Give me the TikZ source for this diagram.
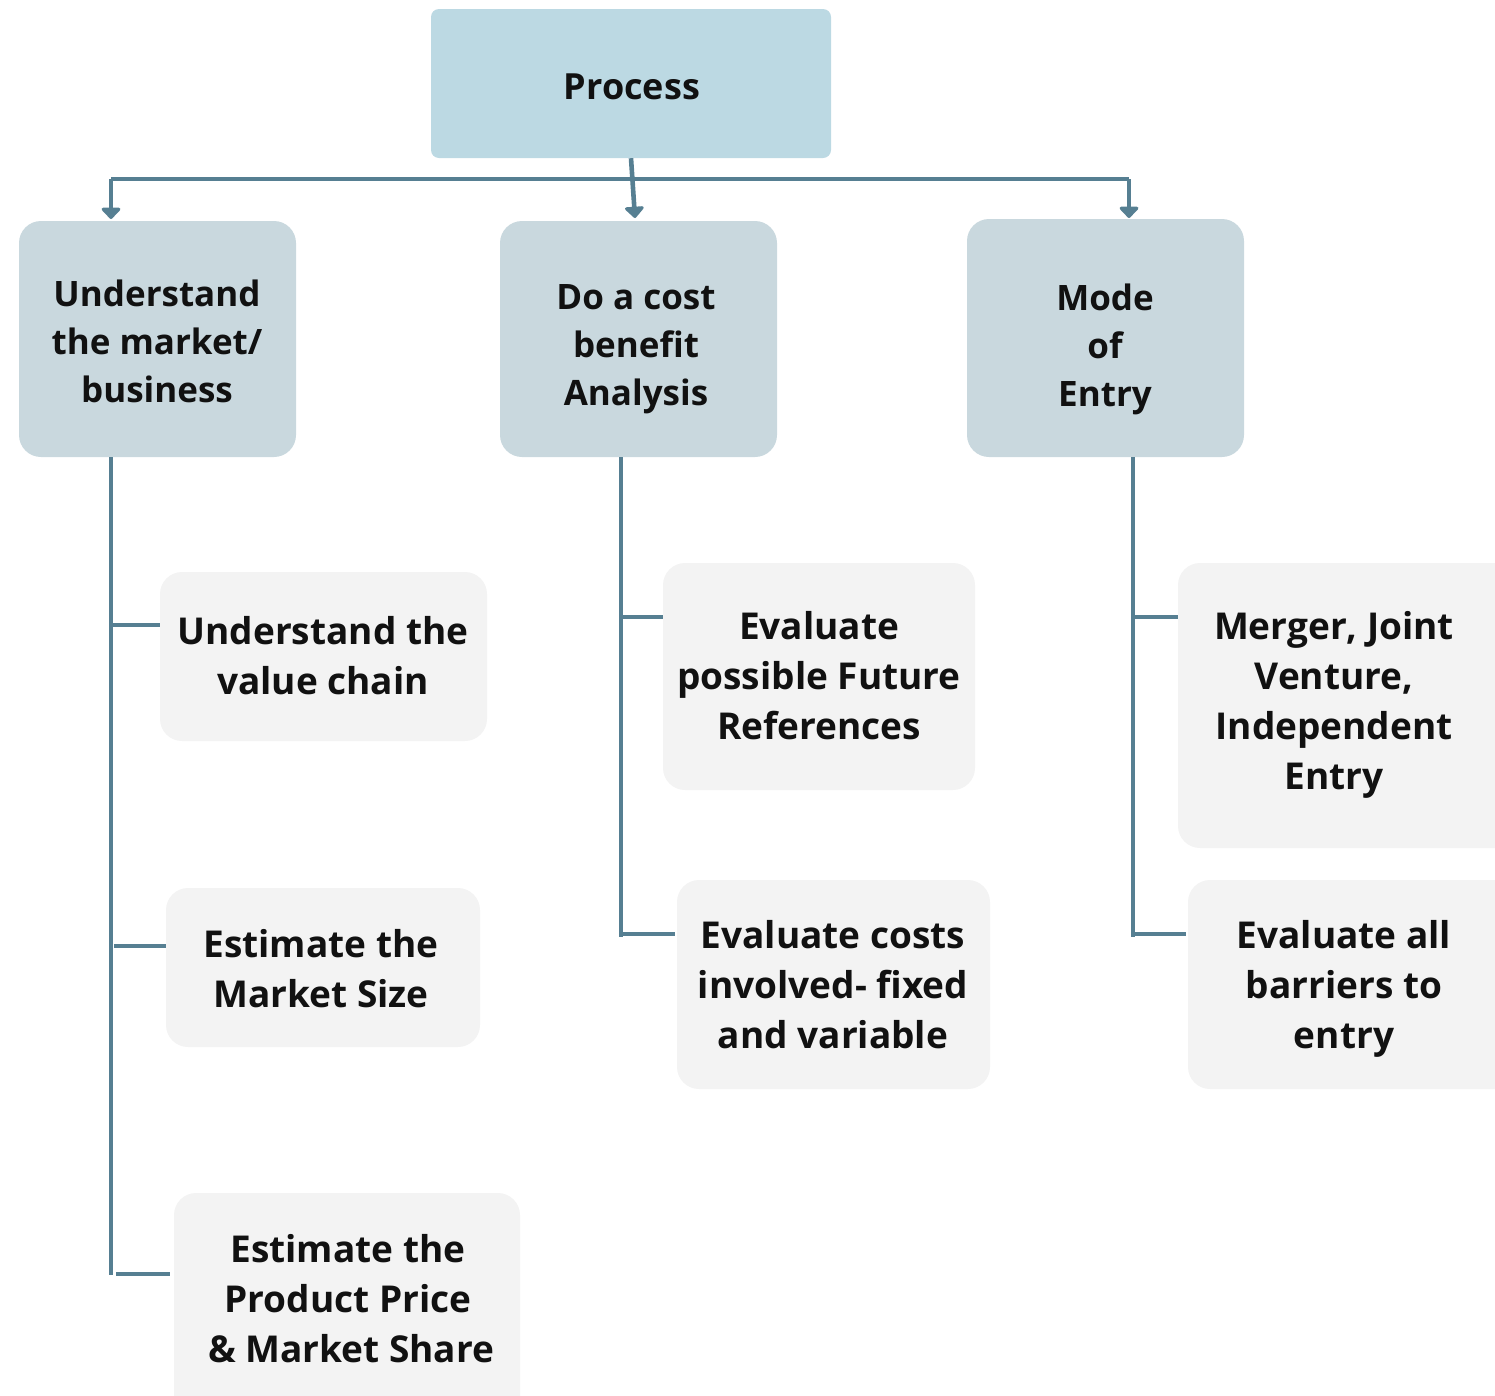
\documentclass[tikz,border=0pt]{standalone}
\usepackage{fontspec}
\setmainfont{Open Sans}
\usetikzlibrary{arrows.meta}
\definecolor{linec}{HTML}{567F92}
\definecolor{topfill}{HTML}{BCD9E3}
\definecolor{headfill}{HTML}{C9D8DE}
\definecolor{subfill}{HTML}{F3F3F3}
\definecolor{ink}{HTML}{111111}
\begin{document}
\begin{tikzpicture}[x=1pt,y=-1pt,
  topbox/.style={rectangle, rounded corners=8pt, fill=topfill, inner sep=0pt},
  headbox/.style={rectangle, rounded corners=22pt, fill=headfill, inner sep=0pt},
  subbox/.style={rectangle, rounded corners=22pt, fill=subfill, inner sep=0pt},
  headtext/.style={align=center, inner sep=0pt, text=ink, font=\bfseries\fontsize{35}{48}\selectfont},
  subtext/.style={align=center, inner sep=0pt, text=ink, font=\bfseries\fontsize{37}{50}\selectfont},
  conn/.style={draw=linec, line width=4.6pt},
  arr/.style={-{Triangle[width=22pt,length=12pt,round]}, fill=linec},
]
\useasboundingbox (0,0) rectangle (1495,1395);
\clip (0,0) rectangle (1495,1395);

% top box
\node[topbox, minimum width=400pt, minimum height=149pt] (proc) at (631,83.5) {};
\node[headtext, font=\bfseries\fontsize{36}{48}\selectfont] (proct) at (632,87) {Process};

% level-one boxes
\node[headbox, minimum width=277pt, minimum height=236pt] (ha) at (157.5,339) {};
\node[headbox, minimum width=277pt, minimum height=236pt] (hb) at (638.5,339) {};
\node[headbox, minimum width=277pt, minimum height=238pt] (hc) at (1105.5,338) {};
\node[headtext] (hat) at (157,341) {Understand\\the market/\\business};
\node[headtext] (hbt) at (636,349) {Do a cost\\benefit\\Analysis};
\node[headtext] (hct) at (1105,349) {Mode\\of\\Entry};

% level-two boxes
\node[subbox, minimum width=327pt, minimum height=169pt] (a1) at (323.5,656.5) {};
\node[subbox, minimum width=314pt, minimum height=159pt] (a2) at (323,967.5) {};
\node[subbox, minimum width=346pt, minimum height=260pt] (a3) at (347,1323) {};
\node[subbox, minimum width=312pt, minimum height=227pt] (b1) at (819,676.5) {};
\node[subbox, minimum width=313pt, minimum height=209pt] (b2) at (833.5,984.5) {};
\node[subbox, minimum width=340pt, minimum height=285pt] (c1) at (1348,705.5) {};
\node[subbox, minimum width=330pt, minimum height=209pt] (c2) at (1353,984.5) {};

\node[subtext] (a1t) at (323,656) {Understand the\\value chain};
\node[subtext] (a2t) at (321,969) {Estimate the\\Market Size};
\node[subtext] (a3t) at (348,1299) {Estimate the\\Product Price\\\,\& Market Share};
\node[subtext] (b1t) at (819,676) {Evaluate\\possible Future\\References};
\node[subtext] (b2t) at (833,985) {Evaluate costs\\involved- fixed\\and variable};
\node[subtext] (c1t) at (1334,705) {Merger, Joint\\Venture,\\Independent\\Entry};
\node[subtext] (c2t) at (1344,989) {Evaluate all\\barriers to\\entry};

% distribution bus and arrows
\coordinate (busL) at (111,179);
\coordinate (busR) at (1129,179);
\coordinate (ta) at (111,219);
\coordinate (tb) at (635,218);
\coordinate (tc) at (1129,218);
\draw[conn] (busL) -- (busR);
\draw[conn, arr] (busL) -- (ta);
\draw[conn, arr] (busR) -- (tc);
\draw[conn, arr] (proc.south) -- (tb);

% trunks
\coordinate (ka0) at (111,457);
\coordinate (ka3) at (111,1275);
\coordinate (kb0) at (621,457);
\coordinate (kb2) at (621,937);
\coordinate (kc0) at (1133,457);
\coordinate (kc2) at (1133,937);
\draw[conn] (ka0) -- (ka3);
\draw[conn] (kb0) -- (kb2);
\draw[conn] (kc0) -- (kc2);

% branches
\coordinate (ka1b) at (111,625);
\coordinate (ka2b) at (114,946);
\coordinate (ka3b) at (116,1274);
\coordinate (kb1b) at (621,617);
\coordinate (kb2b) at (621,934);
\coordinate (kc1b) at (1133,617);
\coordinate (kc2b) at (1133,934);
\draw[conn] (ka1b) -- (a1.west |- ka1b);
\draw[conn] (ka2b) -- (a2.west |- ka2b);
\draw[conn] (ka3b) -- ([xshift=-4pt]a3.west |- ka3b);
\draw[conn] (kb1b) -- (b1.west |- kb1b);
\draw[conn] (kb2b) -- ([xshift=-2pt]b2.west |- kb2b);
\draw[conn] (kc1b) -- (c1.west |- kc1b);
\draw[conn] (kc2b) -- ([xshift=-2pt]c2.west |- kc2b);
\end{tikzpicture}
\end{document}
